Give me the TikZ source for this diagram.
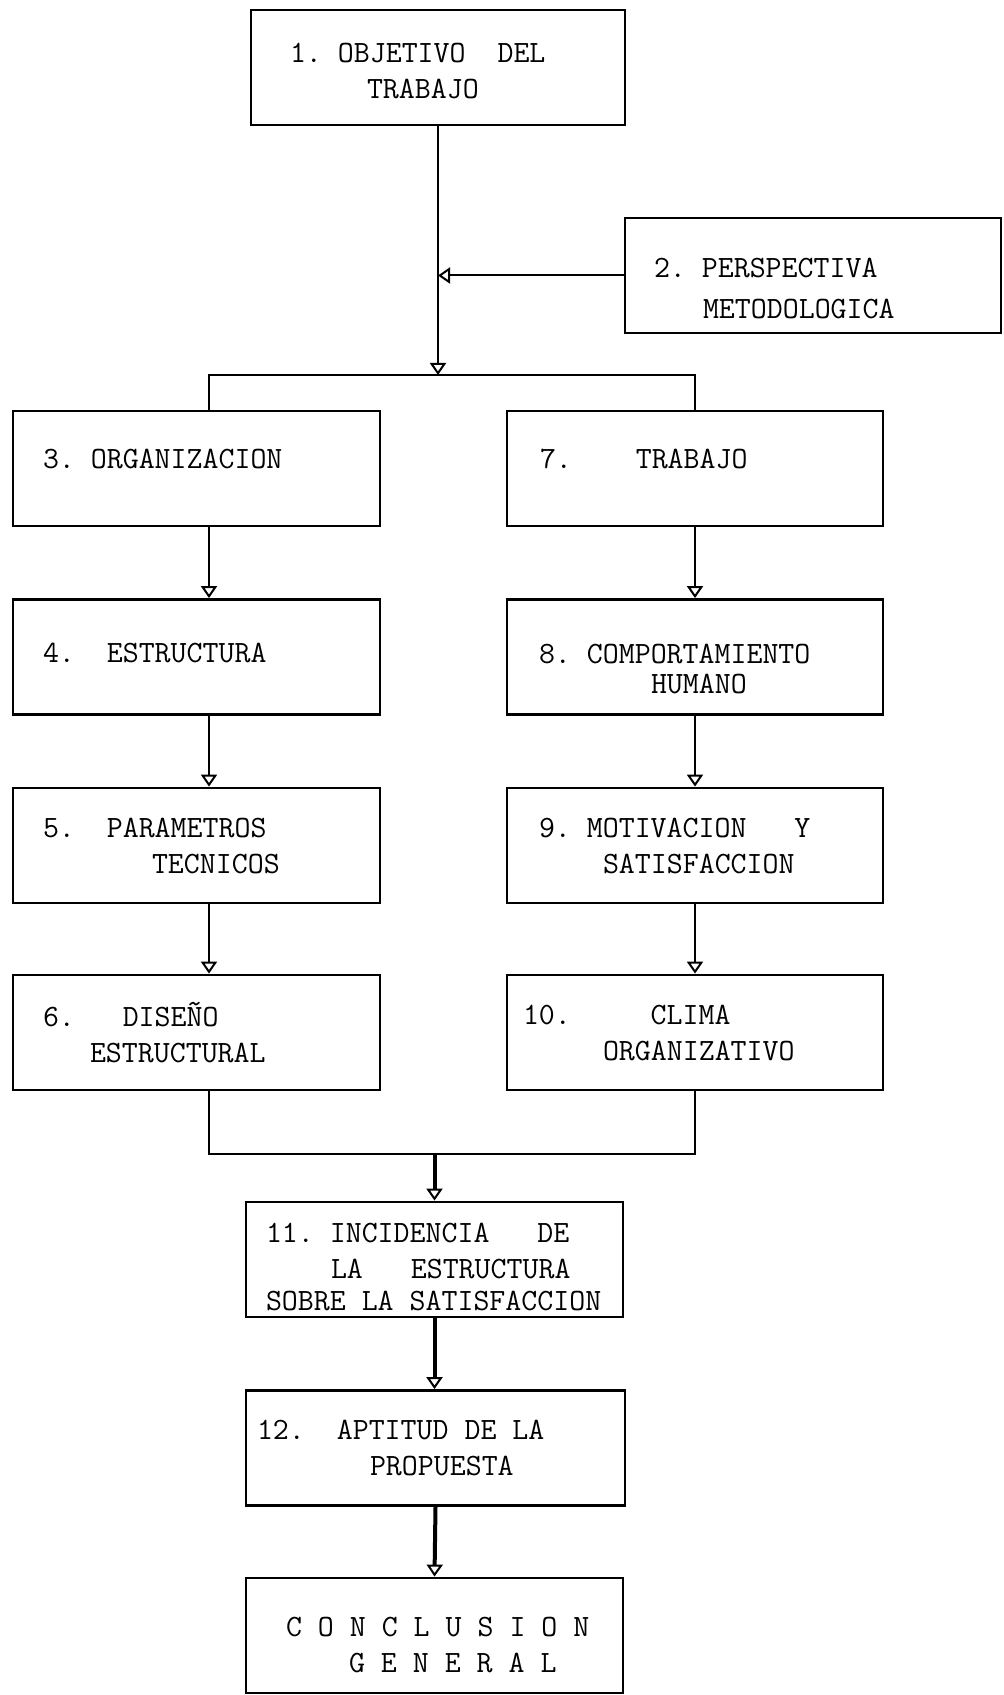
\documentclass[tikz,border=0pt]{standalone}
\usepackage{tikz}
\usetikzlibrary{arrows.meta, positioning, calc}

% letra de maquina de escribir
\newcommand\maquina{\ttfamily\fontsize{15.5}{18}\selectfont}
% un espacio del ancho de una letra
\newcommand\esp{\hphantom{A}}
% baja el texto de una caja
\newcommand\bajar[1]{\rule{0pt}{\dimexpr\fontcharht\font`\A+2\dimexpr#1\relax\relax}}

\begin{document}
\begin{tikzpicture}[x=0.5pt, y=-0.5pt,
  caja/.style={draw, line width=1.4pt, inner xsep=0pt, inner ysep=0pt, minimum height=57.5pt, align=left, font=\maquina},
  colizq/.style={caja, text width=183.5pt},
  colder/.style={caja, text width=188pt},
  centro/.style={caja, text width=188.5pt},
  linea/.style={line width=1pt},
  flecha/.style={linea, -{Triangle[open, length=6pt, width=8pt]}},
  gruesa/.style={line width=2pt, -{Triangle[open, length=6pt, width=8pt, line width=1pt]}}
]
  \useasboundingbox (0,0) rectangle (1003,1695);

  % Cabecera
  \node[caja, text width=187pt] (obj) at (438,67.5) {\bajar{2pt}\hspace*{19.5pt}1.\esp OBJETIVO\esp\esp DEL\\\hspace*{58pt}TRABAJO};
  \node[caja, text width=188pt] (persp) at (813,275.5) {\bajar{6.5pt}\hspace*{14.5pt}2.\esp PERSPECTIVA\\[2.5pt]\hspace*{39pt}METODOLOGICA};

  % Columna izquierda
  \node[colizq, text depth=10pt] (org) at (196.5,468.5) {\hspace*{15pt}3.\esp ORGANIZACION};
  \node[colizq, text depth=4pt] (estr) at (196.5,657) {\hspace*{15pt}4.\esp\esp ESTRUCTURA};
  \node[colizq] (param) at (196.5,845.5) {\hspace*{15pt}5.\esp\esp PARAMETROS\\\hspace*{69.5pt}TECNICOS};
  \node[colizq] (dis) at (196.5,1032.5) {\hspace*{15pt}6.\esp\esp\esp DISEÑO\\\hspace*{38.5pt}ESTRUCTURAL};

  % Columna derecha
  \node[colder, text depth=10pt] (trab) at (695,468.5) {\hspace*{16.5pt}7.\esp\esp\esp\esp TRABAJO};
  \node[colder] (comp) at (695,657) {\bajar{6pt}\hspace*{16pt}8.\esp COMPORTAMIENTO\\[-3pt]\hspace*{72pt}HUMANO};
  \node[colder] (motiv) at (695,845.5) {\hspace*{16pt}9.\esp MOTIVACION\esp\esp\esp Y\\\hspace*{48pt}SATISFACCION};
  \node[colder] (clima) at (695,1032.5) {\hspace*{8pt}10.\esp\esp\esp\esp\esp CLIMA\\\hspace*{48pt}ORGANIZATIVO};

  % Parte final
  \node[centro] (incid) at (434.5,1259.5) {\bajar{3.75pt}\hspace*{10pt}11.\esp INCIDENCIA\esp\esp\esp DE\\\hspace*{42.5pt}LA\esp\esp\esp ESTRUCTURA\\[-2pt]\hspace*{10pt}SOBRE\esp LA\esp SATISFACCION};
  \node[centro, text width=189.5pt] (apt) at (435.5,1448) {\hspace*{5.5pt}12.\esp\esp APTITUD\esp DE\esp LA\\\hspace*{62pt}PROPUESTA};
  \node[centro] (concl) at (434.5,1635.5) {\bajar{5pt}\hspace*{20pt}C\esp O\esp N\esp C\esp L\esp U\esp S\esp I\esp O\esp N\\\hspace*{51.5pt}G\esp E\esp N\esp E\esp R\esp A\esp L};

  % Conectores
  \coordinate (izq) at (209,375);
  \coordinate (der) at (695,375);
  \coordinate (jizq) at (209,1154);
  \coordinate (jder) at (695,1154);

  \draw[flecha] (obj.south) -- (obj.south |- izq);
  \draw[flecha] (persp.west) -- (persp.west -| obj.south);
  \draw[linea] (izq |- org.north) -- (izq) -- (der) -- (trab.north);

  \draw[flecha] (izq |- org.south) -- (izq |- estr.north);
  \draw[flecha] (izq |- estr.south) -- (izq |- param.north);
  \draw[flecha] (izq |- param.south) -- (izq |- dis.north);

  \draw[flecha] (trab.south) -- (comp.north);
  \draw[flecha] (comp.south) -- (motiv.north);
  \draw[flecha] (motiv.south) -- (clima.north);

  \draw[linea] (jizq |- dis.south) -- (jizq) -- (jder) -- (clima.south);
  \draw[gruesa] (incid.north |- jizq) -- (incid.north);
  \draw[gruesa] (incid.south) -- (incid.south |- apt.north);
  \draw[gruesa] (apt.south) -- (concl.north);
\end{tikzpicture}
\end{document}
